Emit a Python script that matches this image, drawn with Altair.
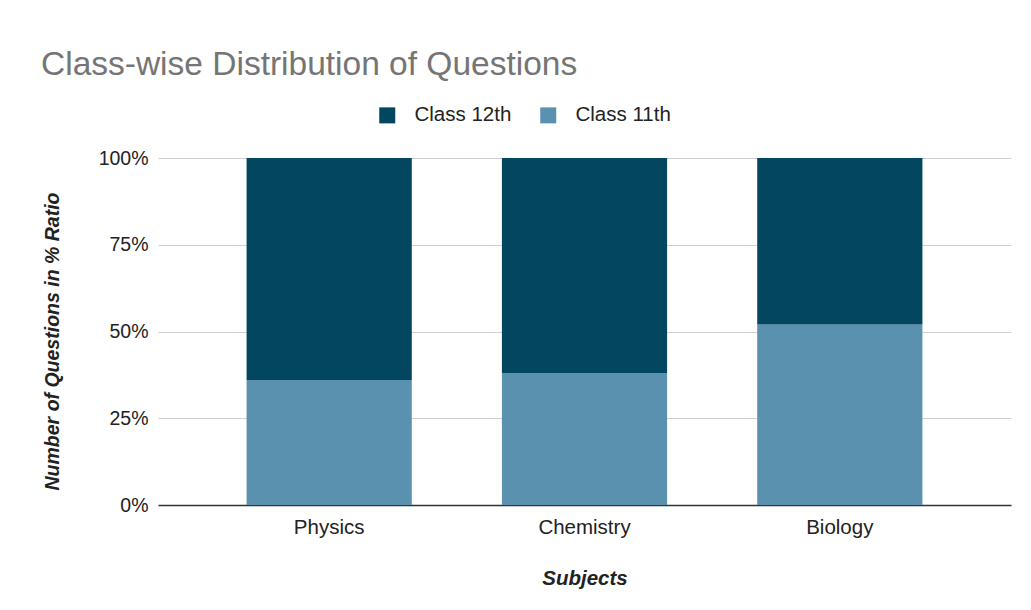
import altair as alt
import pandas as pd

subjects = ["Physics", "Chemistry", "Biology"]
class_11 = [36, 38, 52]
class_12 = [64, 62, 48]
series = ["Class 12th", "Class 11th"]
colors = ["#02465f", "#5991ae"]
y_ticks = [0, 0.25, 0.5, 0.75, 1.0]

rows = []
for s, v11, v12 in zip(subjects, class_11, class_12):
    rows.append({"Subject": s, "Class": "Class 11th", "Value": v11, "ord": 0})
    rows.append({"Subject": s, "Class": "Class 12th", "Value": v12, "ord": 1})
df = pd.DataFrame(rows)

FONT = "Liberation Sans"

chart = alt.Chart(df).mark_bar().encode(
    x=alt.X("Subject:N", sort=subjects,
            scale=alt.Scale(paddingInner=0.353, paddingOuter=0.347),
            axis=alt.Axis(title="Subjects", labelAngle=0, ticks=False,
                          domainColor="#333333", domainWidth=1.5,
                          labelFontSize=20.5, labelColor="#222222", labelPadding=12,
                          titleFontSize=20.5, titleFontStyle="italic", titleFontWeight="bold",
                          titleColor="#222222", titlePadding=31, grid=False)),
    y=alt.Y("Value:Q", stack="normalize",
            scale=alt.Scale(domain=[0, 1]),
            axis=alt.Axis(title="Number of Questions in % Ratio", format=".0%",
                          values=y_ticks, ticks=False, domain=False,
                          gridColor="#cfcfcf", gridWidth=1,
                          labelFontSize=19.5, labelColor="#222222", labelPadding=10,
                          titleFontSize=19.5, titleFontStyle="italic", titleFontWeight="bold",
                          titleColor="#222222", titlePadding=36, titleY=183)),
    color=alt.Color("Class:N",
                    scale=alt.Scale(domain=series, range=colors),
                    legend=alt.Legend(title=None, orient="none", direction="horizontal",
                                      legendX=219, legendY=-53, padding=0,
                                      symbolType="square", symbolSize=256,
                                      symbolStrokeWidth=0, labelOffset=17,
                                      columnPadding=26, labelFontSize=20.5,
                                      labelColor="#222222", labelFont=FONT)),
    order=alt.Order("ord:Q", sort="ascending"),
).properties(
    width=853,
    height=347,
    title=alt.TitleParams("Class-wise Distribution of Questions", anchor="start",
                          frame="group", dx=-117, fontSize=33.5, fontWeight="normal",
                          color="#757575", font=FONT, offset=23),
    autosize=alt.AutoSizeParams(type="none"),
    padding={"left": 150, "top": 150, "right": 12, "bottom": 90},
).configure(
    font=FONT, background="white"
).configure_view(stroke=None)

chart.save("out.html", embed_options={"renderer": "svg", "actions": False})
